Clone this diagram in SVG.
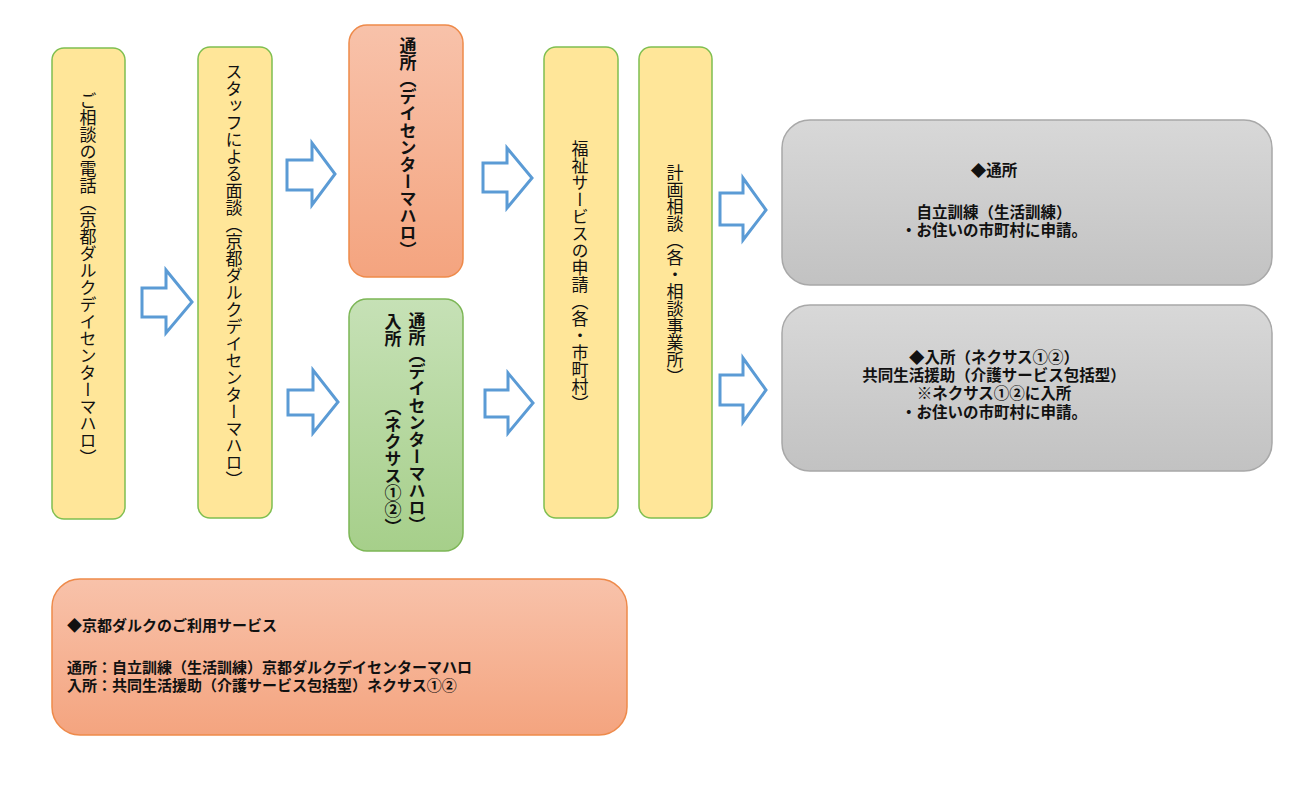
<svg xmlns="http://www.w3.org/2000/svg" width="1300" height="810" viewBox="0 0 1300 810">
<defs>
<linearGradient id="gOrange" x1="0" y1="0" x2="0" y2="1"><stop offset="0" stop-color="#F8C2AA"/><stop offset="1" stop-color="#F4A47F"/></linearGradient>
<linearGradient id="gGreen" x1="0" y1="0" x2="0" y2="1"><stop offset="0" stop-color="#C6E1B6"/><stop offset="1" stop-color="#A6CF8A"/></linearGradient>
<linearGradient id="gGrey" x1="0" y1="0" x2="0" y2="1"><stop offset="0" stop-color="#D8D8D8"/><stop offset="1" stop-color="#C2C2C2"/></linearGradient>
<style>
.yel{fill:#FFE699;stroke:#7FBF50;stroke-width:1.5}
.org{fill:url(#gOrange);stroke:#EE8A4A;stroke-width:1.5}
.grn{fill:url(#gGreen);stroke:#7CB655;stroke-width:1.5}
.gry{fill:url(#gGrey);stroke:#A8A8A8;stroke-width:1.5}
.arr{fill:#FFFFFF;stroke:#5B9BD5;stroke-width:3;stroke-linejoin:miter}
.v{font-family:"Noto Sans CJK JP","Noto Sans CJK SC",sans-serif;font-size:17px;fill:#111;writing-mode:vertical-rl;text-anchor:middle}
.vb{font-weight:bold}
.h{font-family:"Noto Sans CJK JP","Noto Sans CJK SC",sans-serif;font-size:15px;font-weight:bold;fill:#111}
.g{font-size:15.5px}
.c{text-anchor:middle}
</style>
</defs>
<g id="connectors">
<path class="arr" d="M142,288 H166 V270 L192,302 L166,333 V317 H142 Z"/>
<path class="arr" d="M287,160 H312 V143 L335,174 L312,205 V190 H287 Z"/>
<path class="arr" d="M288,390 H313 V370 L338,402 L313,433 V415 H288 Z"/>
<path class="arr" d="M483,163 H507 V148 L532,178 L507,208 V192 H483 Z"/>
<path class="arr" d="M485,390 H508 V373 L533,403 L508,433 V417 H485 Z"/>
<path class="arr" d="M720,193 H743 V178 L766,210 L743,240 V225 H720 Z"/>
<path class="arr" d="M720,375 H743 V358 L766,390 L743,422 V405 H720 Z"/>
</g>
<g id="node-call">
<rect class="yel" x="52" y="48" width="73" height="471" rx="12"/>
<text class="v" x="88" y="279">ご相談の電話（京都ダルクデイセンターマハロ）</text>
</g>
<g id="node-interview">
<rect class="yel" x="198" y="47" width="74" height="471" rx="12"/>
<text class="v" x="234" y="276">スタッフによる面談（京都ダルクデイセンターマハロ）</text>
</g>
<g id="node-day">
<rect class="org" x="349" y="25" width="114" height="252" rx="18"/>
<text class="v vb" x="408" y="148">通所（デイセンターマハロ）</text>
</g>
<g id="node-residence">
<rect class="grn" x="349" y="299" width="114" height="252" rx="18"/>
<text class="v vb" x="417" y="423">通所（デイセンターマハロ）</text>
<text class="v vb" x="393" y="330">入所</text>
<text class="v vb" x="393" y="467">（ネクサス①②）</text>
</g>
<g id="node-apply">
<rect class="yel" x="544" y="47" width="74" height="471" rx="12"/>
<text class="v" x="580" y="276">福祉サービスの申請（各・市町村）</text>
</g>
<g id="node-plan">
<rect class="yel" x="639" y="47" width="73" height="471" rx="12"/>
<text class="v" x="675" y="275">計画相談（各・相談事業所）</text>
</g>
<g id="node-result-day">
<rect class="gry" x="782" y="120" width="490" height="165" rx="28"/>
<text class="h g c" x="994" y="176">◆通所</text>
<text class="h g c" x="994" y="218">自立訓練（生活訓練）</text>
<text class="h g c" x="994" y="236">・お住いの市町村に申請。</text>
</g>
<g id="node-result-res">
<rect class="gry" x="782" y="305" width="490" height="166" rx="28"/>
<text class="h g c" x="994" y="363">◆入所（ネクサス①②）</text>
<text class="h g c" x="994" y="381">共同生活援助（介護サービス包括型）</text>
<text class="h g c" x="994" y="399">※ネクサス①②に入所</text>
<text class="h g c" x="994" y="418">・お住いの市町村に申請。</text>
</g>
<g id="node-services">
<rect class="org" x="52" y="579" width="575" height="156" rx="28"/>
<text class="h" x="67" y="631">◆京都ダルクのご利用サービス</text>
<text class="h" x="67" y="673">通所：自立訓練（生活訓練）京都ダルクデイセンターマハロ</text>
<text class="h" x="67" y="691">入所：共同生活援助（介護サービス包括型）ネクサス①②</text>
</g>
</svg>
